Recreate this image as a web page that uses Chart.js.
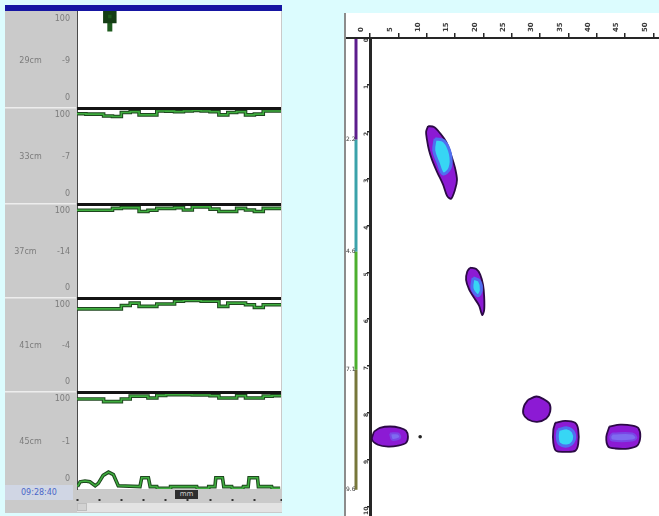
<!DOCTYPE html>
<html>
<head>
<meta charset="utf-8">
<script src="https://cdn.jsdelivr.net/npm/chart.js@4.4.1/dist/chart.umd.min.js"></script>
<style>
  html, body { margin: 0; padding: 0; }
  body { width: 659px; height: 516px; background: #dcfcfe; position: relative; overflow: hidden; font-family: "DejaVu Sans", sans-serif; }
  #recorder { position: absolute; left: 5px; top: 5px; width: 277px; height: 508px; background: #cacaca; }
  #titlebar { position: absolute; left: 0; top: 0; width: 277px; height: 6px; background: #1616a2; }
  #recorder canvas { position: absolute; left: 0; }
  #clock { position: absolute; left: 0; top: 480px; width: 68px; height: 15px; background: #d0d6e4; color: #4a66c8; font-size: 8px; line-height: 15px; text-align: center; }
  #unit { position: absolute; left: 170px; top: 485px; width: 23px; height: 9px; background: #2e2e2e; color: #cfcfcf; font-size: 7px; line-height: 9px; text-align: center; }
  #scroll { position: absolute; left: 72px; top: 498px; width: 205px; height: 9px; background: #e3e3e3; }
  #scroll span { position: absolute; left: 0; top: 0; width: 10px; height: 8px; background: #d2d2d2; border: 1px solid #bdbdbd; box-sizing: border-box; }
  #profile { position: absolute; left: 344px; top: 13px; width: 315px; height: 503px; background: #fff; border-left: 2px solid #8c8c8c; box-sizing: border-box; }
  #profile canvas { position: absolute; left: 0; top: 0; }
</style>
</head>
<body>
<div id="recorder">
  <div id="titlebar"></div>
  <canvas id="s1" width="277" height="96" style="top:6px"></canvas>
  <canvas id="s2" width="277" height="96" style="top:102px"></canvas>
  <canvas id="s3" width="277" height="94" style="top:198px"></canvas>
  <canvas id="s4" width="277" height="94" style="top:292px"></canvas>
  <canvas id="s5" width="277" height="112" style="top:386px"></canvas>
  <div id="clock">09:28:40</div>
  <div id="unit">mm</div>
  <div id="scroll"><span></span></div>
</div>
<div id="profile"><canvas id="map" width="313" height="503"></canvas></div>

<script>
// ---------- strip recorder ----------
const sampleTimes = [0, 2, 4, 6, 8, 10, 12, 14, 16, 18, 20, 22, 24, 26, 28, 30, 32, 34, 36, 38, 40, 42, 44, 46];
const stripDepths = ['29cm', '33cm', '37cm', '41cm', '45cm'];
const stripOffsets = ['-9', '-7', '-14', '-4', '-1'];
const stripTickValues = [0, 47, 100];

const trace33 = [101.4, 101, 101, 98.6, 98, 103, 104, 100, 100, 105, 104.7, 104, 105, 105.5, 105, 104, 100, 103, 104, 100, 101, 105, 105, 105];
const trace37 = [100.5, 100.5, 100.5, 100.5, 103, 104, 104, 99, 100.5, 103, 103, 104, 101, 105, 105, 102, 99, 99, 103, 101, 99, 103, 103, 103];
const trace41 = [94.6, 94.6, 94.6, 94.6, 94.6, 99, 102, 97.8, 97.8, 101, 101, 104.5, 105.5, 105.5, 104.5, 104.5, 97.8, 102, 102, 100, 96.4, 100, 100, 100];
const trace45 = [100, 100, 100, 96.8, 96.8, 100, 103.6, 103.6, 101.3, 104.5, 105.5, 105.5, 105.5, 105, 105, 104, 101.3, 101.3, 104, 101.3, 101.3, 103.6, 104, 104];

// low trace of the deepest strip
const baseTimes45 = [0.1, 0.7, 1.8, 2.9, 4.1, 4.8, 5.9, 7.1, 8.2, 9.3, 14.2, 14.6, 16.1, 16.5, 18.0, 18.1, 21.0, 21.1, 27.0, 27.1, 29.6, 29.7, 31.1, 31.3, 32.8, 33.1, 34.9, 35.0, 37.4, 37.5, 38.6, 38.8, 40.7, 40.9, 43.9, 44.0, 45.8];
const baseValues45 = [-9, -3, -2, -3, -8, -5, 5, 9, 6, -8, -9, 2, 2, -9, -9, -11, -11, -9, -9, -11, -11, -9, -9, 2, 2, -9, -9, -11, -11, -9, -9, 2, 2, -9, -9, -11, -11];

// event mark on the shallowest strip
const markTimes29 = [7.4, 7.4];
const markValues29 = [103, 84];

const toPoints = (xs, ys) => xs.map((x, i) => ({ x: x, y: ys[i] }));

const stripFrame = {
  id: 'stripFrame',
  beforeDraw(chart, args, opts) {
    const { ctx, chartArea: a } = chart;
    ctx.save();
    ctx.fillStyle = '#ffffff';
    ctx.fillRect(a.left, a.top, a.right - a.left, a.bottom - a.top);
    if (opts.topRule) {
      ctx.fillStyle = '#ededed';
      ctx.fillRect(0, a.top, a.left - 1, 1.5);
    }
    ctx.restore();
  },
  afterDatasetsDraw(chart, args, opts) {
    if (!opts.topRule) return;
    const { ctx, chartArea: a } = chart;
    ctx.save();
    ctx.strokeStyle = '#141414';
    ctx.lineWidth = 3;
    ctx.beginPath();
    ctx.moveTo(a.left, a.top + 1.5);
    ctx.lineTo(a.right, a.top + 1.5);
    ctx.stroke();
    ctx.restore();
  }
};

// Chart.js paints the first dataset last, so the bright core goes first
function traceSets(points, stepped) {
  return [
    { data: points, borderColor: '#3fae3f', borderWidth: 1.6, pointRadius: 0, stepped: stepped, fill: false },
    { data: points, borderColor: '#1e461e', borderWidth: 3.6, pointRadius: 0, stepped: stepped, fill: false }
  ];
}

function makeStrip(id, index, datasets, isLast) {
  new Chart(document.getElementById(id), {
    type: 'line',
    data: { datasets: datasets },
    options: {
      responsive: false,
      animation: false,
      events: [],
      layout: { autoPadding: false, padding: { left: 0, right: 1, top: 0, bottom: 0 } },
      plugins: {
        legend: { display: false },
        tooltip: { enabled: false },
        stripFrame: { topRule: index > 0 }
      },
      scales: {
        x: {
          type: 'linear', min: 0, max: 46, display: isLast,
          afterFit: s => { if (isLast) s.height = 14; s.paddingLeft = 0; s.paddingRight = 0; },
          ticks: { display: false, stepSize: 5 },
          grid: { drawOnChartArea: false, drawTicks: true, tickLength: 13, tickColor: '#333', tickWidth: 2, tickBorderDash: [0, 10, 2, 20] },
          border: { display: false }
        },
        y: {
          min: -12, max: 110,
          afterFit: s => { s.width = 72; s.paddingTop = 0; s.paddingBottom = 0; },
          afterBuildTicks: s => { s.ticks = stripTickValues.map(v => ({ value: v })); },
          ticks: {
            font: { family: 'DejaVu Sans', size: 8 },
            color: '#7c7c7c',
            padding: 7,
            callback: v => (v === 47 ? stripDepths[index] + '        ' + stripOffsets[index] : String(v))
          },
          grid: { display: false, drawTicks: false },
          border: { display: true, color: '#4a4a4a', width: 1 }
        }
      }
    },
    plugins: [stripFrame]
  });
}

makeStrip('s1', 0, [
  { data: toPoints(markTimes29, markValues29), borderColor: '#1d5a1d', borderWidth: 5, pointStyle: 'rect', pointRadius: [6, 0], pointBackgroundColor: '#1d5a1d', pointBorderColor: '#143d14' }
], false);
makeStrip('s2', 1, traceSets(toPoints(sampleTimes, trace33), true), false);
makeStrip('s3', 2, traceSets(toPoints(sampleTimes, trace37), true), false);
makeStrip('s4', 3, traceSets(toPoints(sampleTimes, trace41), true), false);
makeStrip('s5', 4, traceSets(toPoints(sampleTimes, trace45), true).concat(traceSets(toPoints(baseTimes45, baseValues45), false)), true);

// ---------- echo profile ----------
const colTicks = ['0', '5', '10', '15', '20', '25', '30', '35', '40', '45', '50'];
const rowTicks = ['0', '1', '2', '3', '4', '5', '6', '7', '8', '9', '10'];
const bandEdges = [0, 2.17, 4.56, 7.08, 9.64];
const bandLabels = ['2.2', '4.6', '7.1', '9.6'];
const bandPalette = ['#5c1d8c', '#3ba2aa', '#4caf2e', '#77773a'];

const echoA = [[2.05, 1.88], [2.26, 1.90], [2.47, 2.03], [2.69, 2.22], [2.86, 2.49], [3.00, 2.77], [3.07, 3.03], [3.00, 3.24], [2.86, 3.43], [2.72, 3.37], [2.58, 3.13], [2.37, 2.86], [2.19, 2.60], [2.08, 2.39], [2.01, 2.17], [1.98, 2.00]];
const coreA = [[2.30, 2.15], [2.62, 2.20], [2.84, 2.48], [2.82, 2.78], [2.58, 2.90], [2.40, 2.66], [2.25, 2.40]];
const echoB = [[3.53, 4.90], [3.75, 4.93], [3.89, 5.05], [3.99, 5.27], [4.03, 5.52], [4.03, 5.80], [3.96, 5.91], [3.85, 5.71], [3.67, 5.54], [3.50, 5.37], [3.39, 5.16], [3.43, 4.99]];
const coreB = [[3.64, 5.12], [3.86, 5.18], [3.93, 5.38], [3.80, 5.50], [3.60, 5.34]];
const echoC = [[0.14, 8.40], [0.35, 8.32], [0.71, 8.29], [1.06, 8.32], [1.27, 8.38], [1.34, 8.51], [1.27, 8.64], [0.99, 8.70], [0.64, 8.72], [0.28, 8.68], [0.07, 8.57]];
const coreC = [[0.71, 8.44], [0.99, 8.44], [1.06, 8.53], [0.78, 8.57]];
const echoD = [[5.58, 7.72], [5.87, 7.65], [6.11, 7.70], [6.33, 7.80], [6.36, 7.97], [6.22, 8.12], [5.90, 8.19], [5.58, 8.14], [5.41, 8.02], [5.44, 7.85]];
const echoE = [[6.54, 8.21], [6.89, 8.17], [7.24, 8.21], [7.35, 8.36], [7.35, 8.66], [7.24, 8.81], [6.89, 8.83], [6.57, 8.81], [6.47, 8.64], [6.47, 8.36]];
const coreE = [[6.64, 8.36], [6.96, 8.32], [7.17, 8.40], [7.21, 8.57], [7.00, 8.70], [6.68, 8.66], [6.61, 8.51]];
const echoF = [[8.45, 8.29], [8.83, 8.25], [9.26, 8.27], [9.47, 8.32], [9.54, 8.51], [9.43, 8.70], [9.12, 8.76], [8.66, 8.76], [8.41, 8.72], [8.34, 8.51]];
const coreF = [[8.55, 8.44], [9.26, 8.44], [9.40, 8.53], [9.26, 8.59], [8.55, 8.59], [8.48, 8.51]];
const strayPoints = [[1.77, 8.51]];

const loop = pairs => pairs.concat([pairs[0]]).map(p => ({ x: p[0], y: p[1] }));

function echo(pairs) {
  return { data: loop(pairs), borderColor: '#2c0a46', borderWidth: 1.8, backgroundColor: '#8c1ad4', fill: 'shape', pointRadius: 0, tension: 0.3 };
}
function core(pairs, weak) {
  return { data: loop(pairs), borderColor: weak ? '#7a46e6' : '#4f6ff0', borderWidth: weak ? 2 : 3, backgroundColor: weak ? '#7f6cf0' : '#37d6f4', fill: 'shape', pointRadius: 0, tension: 0.35 };
}

const bandBar = {
  id: 'bandBar',
  afterDraw(chart) {
    const { ctx, chartArea: a } = chart;
    const ys = chart.scales.y;
    const x = a.left - 14;
    ctx.save();
    ctx.lineWidth = 3;
    for (let i = 0; i < bandEdges.length - 1; i++) {
      ctx.strokeStyle = bandPalette[i];
      ctx.beginPath();
      ctx.moveTo(x, ys.getPixelForValue(bandEdges[i]));
      ctx.lineTo(x, ys.getPixelForValue(bandEdges[i + 1]));
      ctx.stroke();
    }
    // top rule runs on past the axis to the panel edge
    ctx.strokeStyle = '#262626';
    ctx.lineWidth = 2;
    ctx.beginPath();
    ctx.moveTo(0, a.top);
    ctx.lineTo(a.left, a.top);
    ctx.stroke();
    ctx.fillStyle = '#3a3a3a';
    ctx.font = '6px "DejaVu Sans"';
    ctx.textBaseline = 'middle';
    bandLabels.forEach((t, i) => {
      ctx.fillText(t, 0, ys.getPixelForValue(bandEdges[i + 1]));
    });
    ctx.restore();
  }
};

new Chart(document.getElementById('map'), {
  type: 'line',
  data: {
    // cores are listed ahead of their echoes so they paint on top
    datasets: [
      { data: strayPoints.map(p => ({ x: p[0], y: p[1] })), showLine: false, pointRadius: 1.8, pointBackgroundColor: '#222', pointBorderWidth: 0 },
      core(coreA, false), core(coreB, false), core(coreC, true), core(coreE, false), core(coreF, true),
      echo(echoA), echo(echoB), echo(echoC), echo(echoD), echo(echoE), echo(echoF)
    ]
  },
  options: {
    responsive: false,
    animation: false,
    events: [],
    layout: { autoPadding: false, padding: 0 },
    plugins: { legend: { display: false }, tooltip: { enabled: false } },
    scales: {
      x: {
        type: 'linear', position: 'top', min: 0, max: 10.2,
        afterFit: s => { s.height = 25; s.paddingLeft = 0; s.paddingRight = 0; },
        afterBuildTicks: s => { s.ticks = colTicks.map((t, i) => ({ value: i })); },
        ticks: { callback: (v, i) => colTicks[i], font: { family: 'DejaVu Sans', size: 7, weight: 'bold' }, color: '#3a3a3a', padding: 1, minRotation: 90, maxRotation: 90 },
        grid: { drawOnChartArea: false, tickLength: 5, color: '#262626', lineWidth: 1.5 },
        border: { color: '#262626', width: 2 }
      },
      y: {
        type: 'linear', reverse: true, min: 0, max: 10.2,
        afterFit: s => { s.width = 24; s.paddingTop = 0; s.paddingBottom = 0; },
        afterBuildTicks: s => { s.ticks = rowTicks.map((t, i) => ({ value: i })); },
        ticks: { callback: (v, i) => rowTicks[i], font: { family: 'DejaVu Sans', size: 6, weight: 'bold' }, color: '#3a3a3a', padding: 1, minRotation: 90, maxRotation: 90 },
        grid: { drawOnChartArea: false, tickLength: 3, color: '#262626', lineWidth: 1.5 },
        border: { color: '#262626', width: 3 }
      }
    }
  },
  plugins: [bandBar]
});
</script>
</body>
</html>
